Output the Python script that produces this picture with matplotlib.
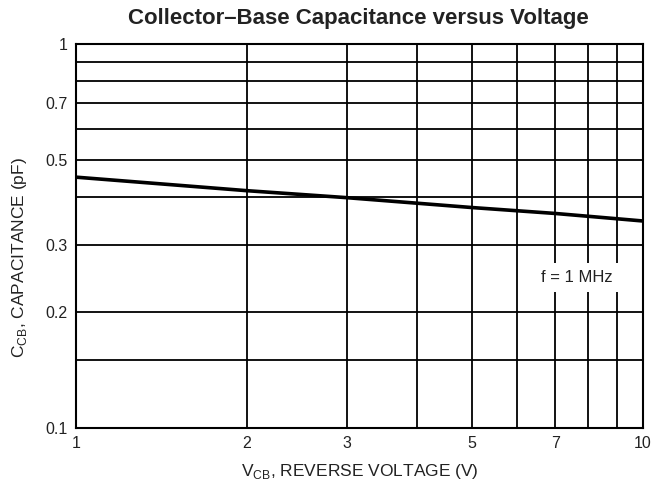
import matplotlib
matplotlib.use("Agg")
import matplotlib.pyplot as plt
from matplotlib.ticker import FixedLocator, NullLocator, FixedFormatter

##################### DATA #####################
v_cb = [1, 2, 3, 5, 7, 10]
c_cb = [0.45, 0.415, 0.398, 0.375, 0.362, 0.346]
x_grid = [1, 2, 3, 4, 5, 6, 7, 8, 9, 10]
y_grid = [0.1, 0.15, 0.2, 0.3, 0.4, 0.5, 0.6, 0.7, 0.8, 0.9, 1]
x_ticks = [1, 2, 3, 5, 7, 10]
x_tick_labels = ["1", "2", "3", "5", "7", "10"]
y_ticks = [0.1, 0.2, 0.3, 0.5, 0.7, 1]
y_tick_labels = ["0.1", "0.2", "0.3", "0.5", "0.7", "1"]
################################################

plt.rcParams['font.family'] = ['Liberation Sans', 'DejaVu Sans']

fig = plt.figure(figsize=(6.51, 4.93), dpi=100)
ax = fig.add_axes([0.1167, 0.1318, 0.871, 0.7790])
ax.set_xscale('log')
ax.set_yscale('log')
ax.set_xlim(1, 10)
ax.set_ylim(0.1, 1)

for x in x_grid:
    ax.axvline(x, color='black', linewidth=1.3, zorder=1)
for y in y_grid:
    ax.axhline(y, color='black', linewidth=1.3, zorder=1)

ax.plot(v_cb, c_cb, color='black', linewidth=2.6, zorder=3)

ax.text(7.65, 0.247, "f = 1 MHz", fontsize=12, ha='center', va='center', color='#222222',
        bbox=dict(facecolor='white', edgecolor='none', pad=5), zorder=4)

ax.xaxis.set_major_locator(FixedLocator(x_ticks))
ax.xaxis.set_major_formatter(FixedFormatter(x_tick_labels))
ax.xaxis.set_minor_locator(NullLocator())
ax.yaxis.set_major_locator(FixedLocator(y_ticks))
ax.yaxis.set_major_formatter(FixedFormatter(y_tick_labels))
ax.yaxis.set_minor_locator(NullLocator())
ax.tick_params(length=0, labelsize=11.5, pad=6, colors='#222222')

for s in ax.spines.values():
    s.set_linewidth(1.5)

ax.set_xlabel("V$_{\\mathregular{CB}}$, REVERSE VOLTAGE (V)", fontsize=12.5, labelpad=8, color='#222222')
ax.set_ylabel("C$_{\\mathregular{CB}}$, CAPACITANCE (pF)", fontsize=12.5, labelpad=6, color='#222222')
ax.yaxis.set_label_coords(-0.083, 0.443)
fig.text(0.55, 0.963, "Collector\u2013Base Capacitance versus Voltage", ha='center', va='center',
         fontsize=16, fontweight='bold', color='#222222')

fig.savefig("out.png", dpi=100)
